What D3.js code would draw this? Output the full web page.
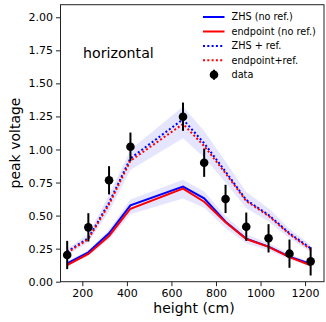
<!DOCTYPE html>
<html>
<head>
<meta charset="utf-8">
<script src="https://cdn.jsdelivr.net/npm/d3@7"></script>
<style>
  body { margin: 0; background: #fff; }
  svg text { font-family: "DejaVu Sans", sans-serif; fill: #000; }
</style>
</head>
<body>
<svg id="chart" width="326" height="322"></svg>
<script>
// heights where data and models were evaluated (cm)
const heights = [132, 227, 320, 416, 652, 747, 843, 936, 1036, 1130, 1225];

// measured peak voltage and its error
const dataV   = [0.202, 0.411, 0.767, 1.021, 1.248, 0.900, 0.626, 0.416, 0.328, 0.212, 0.154];
const dataErr = [0.107, 0.107, 0.107, 0.107, 0.107, 0.107, 0.107, 0.107, 0.107, 0.107, 0.107];

// model curves
const zhsNoRef      = [0.139, 0.222, 0.366, 0.578, 0.719, 0.631, 0.454, 0.325, 0.265, 0.189, 0.134];
const endpointNoRef = [0.126, 0.210, 0.346, 0.552, 0.704, 0.605, 0.449, 0.323, 0.263, 0.186, 0.124];
const zhsRef        = [0.227, 0.330, 0.598, 0.933, 1.228, 1.047, 0.832, 0.618, 0.505, 0.366, 0.253];
const endpointRef   = [0.220, 0.322, 0.585, 0.915, 1.193, 1.026, 0.820, 0.610, 0.498, 0.360, 0.245];

// uncertainty bands (lower / upper)
const bandNoRefLo = [0.118, 0.195, 0.320, 0.510, 0.630, 0.560, 0.405, 0.290, 0.238, 0.168, 0.113];
const bandNoRefHi = [0.152, 0.238, 0.392, 0.622, 0.772, 0.682, 0.497, 0.357, 0.292, 0.210, 0.147];
const bandRefLo   = [0.198, 0.298, 0.530, 0.845, 1.085, 0.940, 0.750, 0.555, 0.455, 0.328, 0.222];
const bandRefHi   = [0.250, 0.360, 0.655, 0.998, 1.325, 1.140, 0.910, 0.678, 0.555, 0.400, 0.278];

const xTicks = [200, 400, 600, 800, 1000, 1200];
const yTicks = [0, 0.25, 0.5, 0.75, 1.0, 1.25, 1.5, 1.75, 2.0];

const svg = d3.select("#chart");
const plotL = 60.5, plotR = 324, plotT = 4.7, plotB = 281.7;

const x = d3.scaleLinear().domain([102, 1285]).range([plotL, plotR]);
const y = d3.scaleLinear().domain([0, 2.095]).range([plotB, plotT]);

// bands
const area = (lo, hi) => d3.area()
    .x((d, i) => x(heights[i]))
    .y0((d, i) => y(lo[i]))
    .y1((d, i) => y(hi[i]))(heights);

svg.append("path").attr("d", area(bandRefLo, bandRefHi))
    .attr("fill", "blue").attr("fill-opacity", 0.1);
svg.append("path").attr("d", area(bandNoRefLo, bandNoRefHi))
    .attr("fill", "blue").attr("fill-opacity", 0.1);

// model lines
const line = d3.line().x((d, i) => x(heights[i])).y(d => y(d));
const series = [
    {vals: zhsNoRef, color: "blue", dash: null, name: "ZHS (no ref.)"},
    {vals: endpointNoRef, color: "red", dash: null, name: "endpoint (no ref.)"},
    {vals: zhsRef, color: "blue", dash: "2,2.3", name: "ZHS + ref."},
    {vals: endpointRef, color: "red", dash: "2,2.3", name: "endpoint+ref."}
];
series.forEach(s => {
    svg.append("path").attr("d", line(s.vals))
        .attr("fill", "none")
        .attr("stroke", s.color)
        .attr("stroke-width", 2)
        .attr("stroke-dasharray", s.dash);
});

// data with error bars
svg.append("g").selectAll("line")
    .data(dataV)
    .join("line")
    .attr("x1", (d, i) => x(heights[i]))
    .attr("x2", (d, i) => x(heights[i]))
    .attr("y1", (d, i) => y(d - dataErr[i]))
    .attr("y2", (d, i) => y(d + dataErr[i]))
    .attr("stroke", "black")
    .attr("stroke-width", 2);

svg.append("g").selectAll("circle")
    .data(dataV)
    .join("circle")
    .attr("cx", (d, i) => x(heights[i]))
    .attr("cy", d => y(d))
    .attr("r", 4.3)
    .attr("fill", "black");

// axes
const xAxis = svg.append("g")
    .attr("transform", `translate(0,${plotB})`)
    .call(d3.axisBottom(x).tickValues(xTicks).tickSize(4.5).tickPadding(3).tickFormat(d3.format("d")));
const yAxis = svg.append("g")
    .attr("transform", `translate(${plotL},0)`)
    .call(d3.axisLeft(y).tickValues(yTicks).tickSize(4.5).tickPadding(3).tickFormat(d3.format(".2f")));
[xAxis, yAxis].forEach(a => {
    a.select(".domain").remove();
    a.selectAll("text").style("font-size", "11px").style("font-family", "DejaVu Sans");
    a.selectAll("line").attr("stroke", "#222");
});

// frame
svg.append("rect")
    .attr("x", plotL).attr("y", plotT)
    .attr("width", plotR - plotL).attr("height", plotB - plotT)
    .attr("fill", "none").attr("stroke", "#222").attr("stroke-width", 1);

// labels
svg.append("text").attr("x", 194).attr("y", 313)
    .attr("text-anchor", "middle").style("font-size", "14px").text("height (cm)");
svg.append("text")
    .attr("transform", "translate(20,143) rotate(-90)")
    .attr("text-anchor", "middle").style("font-size", "14px").text("peak voltage");
svg.append("text").attr("x", 83).attr("y", 58)
    .style("font-size", "14.2px").text("horizontal");

// legend
const lg = svg.append("g");
const rowY = [17, 31.5, 46, 60.3, 74.7];
series.forEach((s, i) => {
    lg.append("line")
        .attr("x1", 203).attr("x2", 224.5)
        .attr("y1", rowY[i]).attr("y2", rowY[i])
        .attr("stroke", s.color).attr("stroke-width", 2)
        .attr("stroke-dasharray", s.dash);
    lg.append("text").attr("x", 231.5).attr("y", rowY[i]).attr("dy", "0.35em")
        .style("font-size", "9.7px").text(s.name);
});
lg.append("line").attr("x1", 214).attr("x2", 214)
    .attr("y1", rowY[4] - 5).attr("y2", rowY[4] + 5)
    .attr("stroke", "black").attr("stroke-width", 2);
lg.append("circle").attr("cx", 214).attr("cy", rowY[4]).attr("r", 4.3).attr("fill", "black");
lg.append("text").attr("x", 231.5).attr("y", rowY[4]).attr("dy", "0.35em")
    .style("font-size", "9.7px").text("data");
</script>
</body>
</html>
